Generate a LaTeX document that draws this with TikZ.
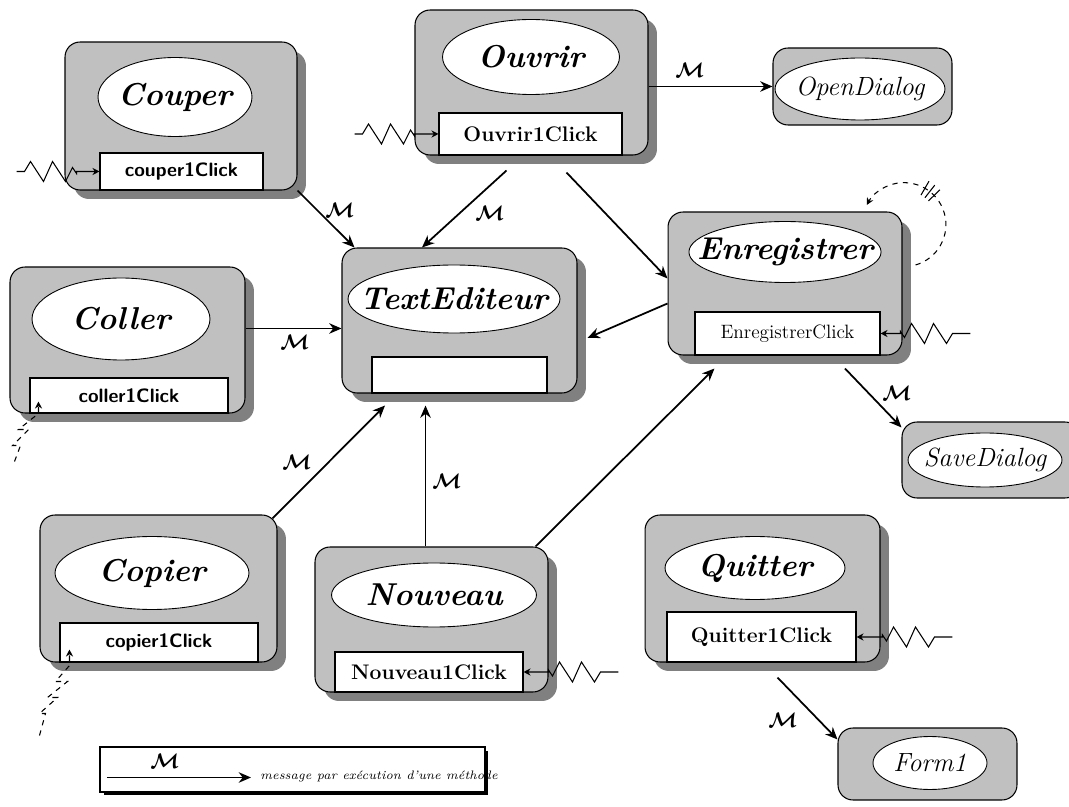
\documentclass[tikz,border=0pt]{standalone}
\usetikzlibrary{arrows.meta,shadows,shapes.geometric,positioning}
\definecolor{boxgray}{HTML}{C0C0C0}
\definecolor{shadegray}{HTML}{808080}
\newcommand{\msgM}{{\boldmath$\mathcal{M}$}}
\tikzset{
  comp/.style={draw,fill=boxgray,rounded corners=0.3cm,line width=0.6pt,
    drop shadow={shadow xshift=0.18cm,shadow yshift=-0.18cm,fill=shadegray,opacity=1}},
  dlg/.style={draw,fill=boxgray,rounded corners=0.3cm,line width=0.6pt},
  oval/.style={draw,fill=white,ellipse,inner xsep=-0.4cm,inner ysep=-0.1cm,line width=0.5pt,
    font=\fontsize{18}{20}\selectfont\bfseries\itshape},
  dlgoval/.style={oval,font=\fontsize{15}{18}\selectfont\itshape},
  clicksf/.style={draw,fill=white,inner sep=0pt,line width=0.6pt,
    font=\fontsize{11}{13}\selectfont\sffamily\bfseries},
  clickrm/.style={clicksf,font=\fontsize{12}{14}\selectfont\bfseries},
  msg/.style={-{Stealth[length=7pt,width=6pt]},line width=1pt},
  zap/.style={-{Stealth[length=4pt,width=4pt]},line width=0.6pt},
  mlab/.style={font=\large,inner sep=1pt}
}
\begin{document}
\begin{tikzpicture}[x=0.02cm,y=-0.02cm]
  \useasboundingbox (0,0) rectangle (1069,807);
  % composants
  \node[comp,minimum width=4.64cm,minimum height=2.96cm] (couper) at (181,116) {};
  \node[comp,minimum width=4.66cm,minimum height=2.9cm] (ouvrir) at (531.5,82.5) {};
  \node[comp,minimum width=4.68cm,minimum height=2.86cm] (enreg) at (785,283.5) {};
  \node[comp,minimum width=4.7cm,minimum height=2.9cm] (texted) at (459.5,320.5) {};
  \node[comp,minimum width=4.7cm,minimum height=2.92cm] (coller) at (127.5,340) {};
  \node[comp,minimum width=4.74cm,minimum height=2.94cm] (copier) at (158.5,588.5) {};
  \node[comp,minimum width=4.66cm,minimum height=2.9cm] (nouveau) at (431.5,619.5) {};
  \node[comp,minimum width=4.7cm,minimum height=2.94cm] (quitter) at (762.5,588.5) {};
  % dialogues
  \node[dlg,minimum width=3.58cm,minimum height=1.54cm] (opendlg) at (862.5,86.5) {};
  \node[dlg,minimum width=3.56cm,minimum height=1.52cm] (savedlg) at (991,460) {};
  \node[dlg,minimum width=3.58cm,minimum height=1.44cm] (form) at (927.5,764) {};
  % noms
  \node[oval,minimum width=3.08cm,minimum height=1.58cm] (couperT) at (175,97) {Couper};
  \node[oval,minimum width=3.54cm,minimum height=1.5cm] (ouvrirT) at (531,57) {Ouvrir};
  \node[oval,minimum width=3.72cm,minimum height=1.22cm] (enregT) at (785,252) {Enregistrer};
  \node[oval,minimum width=4.24cm,minimum height=1.36cm] (textedT) at (454,299) {TextEditeur};
  \node[oval,minimum width=3.56cm,minimum height=1.64cm] (collerT) at (121,319) {Coller};
  \node[oval,minimum width=3.88cm,minimum height=1.46cm] (copierT) at (152,573) {Copier};
  \node[oval,minimum width=4.1cm,minimum height=1.28cm] (nouveauT) at (434,595) {Nouveau};
  \node[oval,minimum width=3.6cm,minimum height=1.26cm] (quitterT) at (755,568) {Quitter};
  \node[dlgoval,minimum width=3.4cm,minimum height=1.24cm] (opendlgT) at (860,89) {OpenDialog};
  \node[dlgoval,minimum width=3.08cm,minimum height=1.08cm] (savedlgT) at (985,460) {SaveDialog};
  \node[dlgoval,minimum width=2.28cm,minimum height=1.06cm] (formT) at (930,763) {Form1};
  % evenements
  \node[clicksf,minimum width=3.26cm,minimum height=0.74cm] (couperC) at (181.5,171.5) {couper1Click};
  \node[clickrm,minimum width=3.66cm,minimum height=0.84cm] (ouvrirC) at (530.5,134) {Ouvrir1Click};
  \node[clickrm,font=\fontsize{11}{13}\selectfont,minimum width=3.7cm,minimum height=0.86cm] (enregC) at (787.5,333.5) {EnregistrerClick};
  \node[clicksf,minimum width=3.5cm,minimum height=0.72cm] (textedC) at (459.5,375) {};
  \node[clicksf,minimum width=3.96cm,minimum height=0.7cm] (collerC) at (129,395.5) {coller1Click};
  \node[clicksf,minimum width=3.96cm,minimum height=0.78cm] (copierC) at (159,642.5) {copier1Click};
  \node[clickrm,minimum width=3.76cm,minimum height=0.8cm] (nouveauC) at (429,672) {Nouveau1Click};
  \node[clickrm,minimum width=3.78cm,minimum height=1cm] (quitterC) at (761.5,637) {Quitter1Click};
  % messages
  \coordinate (tedbot) at ([yshift=-0.24cm]texted.south);
  \coordinate (tedleft) at ([yshift=-0.16cm]texted.west);
  \draw[msg] (couper.south east) -- ([xshift=0.26cm]texted.north west);
  \draw[msg] ([xshift=-0.5cm,yshift=-0.3cm]ouvrir.south) -- ([xshift=-0.75cm]texted.north);
  \draw[msg] ([xshift=0.7cm,yshift=-0.34cm]ouvrir.south) -- ([yshift=0.1cm]enreg.west);
  \draw[msg] (ouvrir.east |- opendlg.west) -- (opendlg.west);
  \draw[msg] (coller.east |- tedleft) -- (tedleft);
  \draw[msg] ([yshift=-0.4cm]enreg.west) -- ([xshift=0.2cm,yshift=-0.35cm]texted.east);
  \draw[msg] ([xshift=1.2cm,yshift=-0.26cm]enreg.south) -- ([yshift=-0.12cm]savedlg.north west);
  \draw[msg] ([xshift=-0.1cm,yshift=-0.08cm]copier.north east) -- ([xshift=-1.49cm]tedbot);
  \draw[msg] ([xshift=-0.12cm]nouveau.north) -- ([xshift=-0.12cm]nouveau.north |- tedbot);
  \draw[msg] ([xshift=-0.26cm]nouveau.north east) -- ([xshift=0.94cm,yshift=-0.26cm]enreg.south west);
  \draw[msg] ([xshift=0.3cm,yshift=-0.3cm]quitter.south) -- ([yshift=-0.24cm]form.north west);
  % etiquettes M
  \node[mlab] (m1) at (340,210) {\msgM};
  \node[mlab] (m2) at (490,213) {\msgM};
  \node[mlab] (m3) at (690,70) {\msgM};
  \node[mlab] (m4) at (295,342) {\msgM};
  \node[mlab] (m5) at (297,462) {\msgM};
  \node[mlab] (m6) at (447,481) {\msgM};
  \node[mlab] (m7) at (897,393) {\msgM};
  \node[mlab] (m8) at (783,720) {\msgM};
  % declencheurs
  \coordinate (couperZ) at ([xshift=-1.66cm]couperC.west);
  \draw[zap] (couperZ) -- ++(8,0) -- ++(6,-10) -- ++(13,20) -- ++(9,-20) -- ++(13,20)
    -- ++(7,-14) -- ++(4,6) |- (couperC.west);
  \coordinate (ouvrirZ) at ([xshift=-1.68cm]ouvrirC.west);
  \draw[zap] (ouvrirZ) -- ++(8,0) -- ++(6,-10) -- ++(13,20) -- ++(9,-20) -- ++(13,20)
    -- ++(7,-14) -- ++(4,6) |- (ouvrirC.west);
  \coordinate (enregZ) at ([xshift=1.8cm]enregC.east);
  \draw[zap] (enregZ) -- ++(-18,0) -- ++(-6,10) -- ++(-13,-20) -- ++(-9,20) -- ++(-13,-20)
    -- ++(-7,14) -- ++(-4,-6) |- (enregC.east);
  \coordinate (nouveauZ) at ([xshift=1.9cm]nouveauC.east);
  \draw[zap] (nouveauZ) -- ++(-18,0) -- ++(-6,10) -- ++(-13,-20) -- ++(-9,20) -- ++(-13,-20)
    -- ++(-7,14) -- ++(-4,-6) |- (nouveauC.east);
  \coordinate (quitterZ) at ([xshift=1.92cm]quitterC.east);
  \draw[zap] (quitterZ) -- ++(-18,0) -- ++(-6,10) -- ++(-13,-20) -- ++(-9,20) -- ++(-13,-20)
    -- ++(-7,14) -- ++(-4,-6) |- (quitterC.east);
  \coordinate (collerZ) at ([xshift=-0.3cm,yshift=-0.96cm]collerC.south west);
  \draw[zap,dashed] (collerZ) -- ++(6,-16) -- ++(-8,0) -- ++(16,-16) -- ++(-10,0) -- ++(20,-16)
    -- ++(0,-12);
  \coordinate (copierZ) at ([xshift=-0.4cm,yshift=-1.46cm]copierC.south west);
  \draw[zap,dashed] (copierZ) -- ++(6,-22) -- ++(-6,0) -- ++(18,-16) -- ++(-10,0) -- ++(20,-16)
    -- ++(-12,0) -- ++(14,-16) -- ++(0,-16);
  % boucle sur Enregistrer
  \coordinate (enregL) at ([xshift=0.26cm,yshift=0.37cm]enreg.east);
  \coordinate (loopC) at ([xshift=-0.23cm,yshift=0.81cm]enregL);
  \draw[zap,dashed] (enregL) arc[start angle=-74,end angle=152,radius=0.84cm];
  \foreach \a in {44,52,60}
    \draw[line width=0.6pt] ([shift={(\a:0.68cm)}]loopC) -- ([shift={(\a:1cm)}]loopC);
  % legende
  \node[draw,fill=white,line width=1.2pt,minimum width=7.7cm,minimum height=0.9cm,
    drop shadow={shadow xshift=0.07cm,shadow yshift=-0.07cm,fill=black,opacity=1}] (legend) at (292.5,769.5) {};
  \coordinate (legA) at ([xshift=0.16cm,yshift=-0.16cm]legend.west);
  \draw[msg] (legA) -- ++(144,0);
  \node[mlab] (legM) at (165,761) {\msgM};
  \node[font=\fontsize{7}{9}\selectfont\itshape] (legT) at (379,776) {message par exécution d'une méthode};
\end{tikzpicture}
\end{document}
